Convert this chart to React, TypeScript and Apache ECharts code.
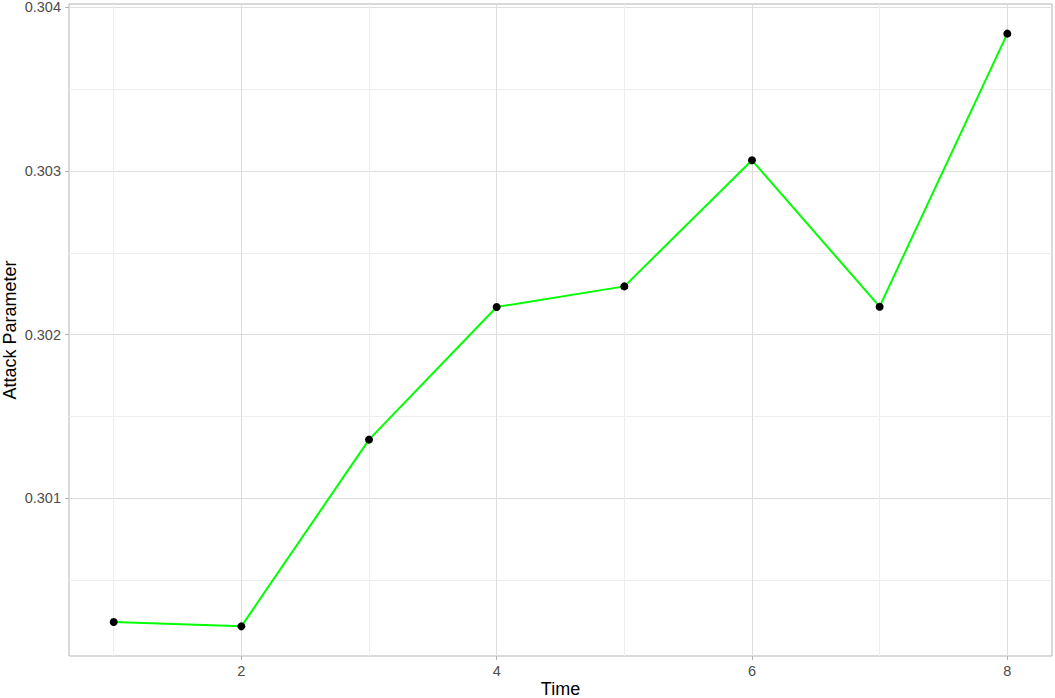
import React, { useEffect, useRef } from "react";
import * as echarts from "echarts";

const timeValues: number[] = [1, 2, 3, 4, 5, 6, 7, 8];
const attackParameter: number[] = [
  0.300245, 0.300218, 0.301359, 0.302169, 0.302295, 0.303065, 0.302171, 0.303839,
];
const xMajorTicks: number[] = [2, 4, 6, 8];
const xMinorTicks: number[] = [1, 3, 5, 7];
const yMajorTicks: number[] = [0.301, 0.302, 0.303, 0.304];
const yMinorTicks: number[] = [0.3005, 0.3015, 0.3025, 0.3035];
const xTitle = "Time";
const yTitle = "Attack Parameter";

const FONT = "'Liberation Sans', Arial, Helvetica, sans-serif";

export default function App() {
  const ref = useRef<HTMLDivElement>(null);

  useEffect(() => {
    if (!ref.current) return;
    const chart = echarts.init(ref.current, undefined, { renderer: "svg" });

    const xMin0 = Math.min(...timeValues);
    const xMax0 = Math.max(...timeValues);
    const xPad = (xMax0 - xMin0) * 0.05;
    const yMin0 = Math.min(...attackParameter);
    const yMax0 = Math.max(...attackParameter);
    const yPad = (yMax0 - yMin0) * 0.05;
    const xMin = xMin0 - xPad;
    const xMax = xMax0 + xPad;
    const yMin = yMin0 - yPad;
    const yMax = yMax0 + yPad;

    const hiddenAxisParts = {
      axisLine: { show: false },
      axisTick: { show: false },
      axisLabel: { show: false },
    };

    chart.setOption({
      animation: false,
      backgroundColor: "#ffffff",
      grid: {
        left: 69,
        right: 3,
        top: 4,
        bottom: 42,
        containLabel: false,
        outerBoundsMode: "none",
        show: true,
        borderColor: "#B3B3B3",
        borderWidth: 1,
        backgroundColor: "transparent",
      },
      xAxis: [
        {
          type: "value",
          min: xMin,
          max: xMax,
          position: "bottom",
          name: xTitle,
          nameLocation: "middle",
          nameGap: 24,
          nameMoveOverlap: false,
          nameTextStyle: { color: "#000000", fontSize: 18, fontFamily: FONT },
          axisLine: { show: false },
          axisTick: {
            show: true,
            length: 4,
            lineStyle: { color: "#B3B3B3", width: 1 },
            customValues: xMajorTicks,
          },
          axisLabel: {
            color: "#4D4D4D",
            fontSize: 14.5,
            fontFamily: FONT,
            margin: 7,
            customValues: xMajorTicks,
            formatter: (v: number) => String(v),
          },
          splitLine: { show: true, lineStyle: { color: "#DEDEDE", width: 1 } },
        },
        {
          type: "value",
          min: xMin,
          max: xMax,
          position: "bottom",
          ...hiddenAxisParts,
          axisTick: { show: false, customValues: xMinorTicks },
          axisLabel: { show: false, customValues: xMinorTicks },
          splitLine: { show: true, lineStyle: { color: "#EDEDED", width: 1 } },
        },
      ],
      yAxis: [
        {
          type: "value",
          min: yMin,
          max: yMax,
          position: "left",
          name: yTitle,
          nameLocation: "middle",
          nameGap: 50,
          nameMoveOverlap: false,
          nameRotate: 90,
          nameTextStyle: { color: "#000000", fontSize: 18, fontFamily: FONT },
          axisLine: { show: false },
          axisTick: {
            show: true,
            length: 4,
            lineStyle: { color: "#B3B3B3", width: 1 },
            customValues: yMajorTicks,
          },
          axisLabel: {
            color: "#4D4D4D",
            fontSize: 14.5,
            fontFamily: FONT,
            margin: 8,
            customValues: yMajorTicks,
            formatter: (v: number) => v.toFixed(3),
          },
          splitLine: { show: true, lineStyle: { color: "#DEDEDE", width: 1 } },
        },
        {
          type: "value",
          min: yMin,
          max: yMax,
          position: "left",
          ...hiddenAxisParts,
          axisTick: { show: false, customValues: yMinorTicks },
          axisLabel: { show: false, customValues: yMinorTicks },
          splitLine: { show: true, lineStyle: { color: "#EDEDED", width: 1 } },
        },
      ],
      series: [
        {
          type: "line",
          xAxisIndex: 0,
          yAxisIndex: 0,
          data: timeValues.map((t, i) => [t, attackParameter[i]]),
          lineStyle: { color: "#00FF00", width: 2 },
          symbol: "circle",
          symbolSize: 8,
          showSymbol: true,
          itemStyle: { color: "#000000", borderWidth: 0 },
          z: 5,
        },
      ],
    });

    return () => {
      chart.dispose();
    };
  }, []);

  return (
    <div
      ref={ref}
      style={{ position: "fixed", left: 0, top: 0, width: 1055, height: 698 }}
    />
  );
}
